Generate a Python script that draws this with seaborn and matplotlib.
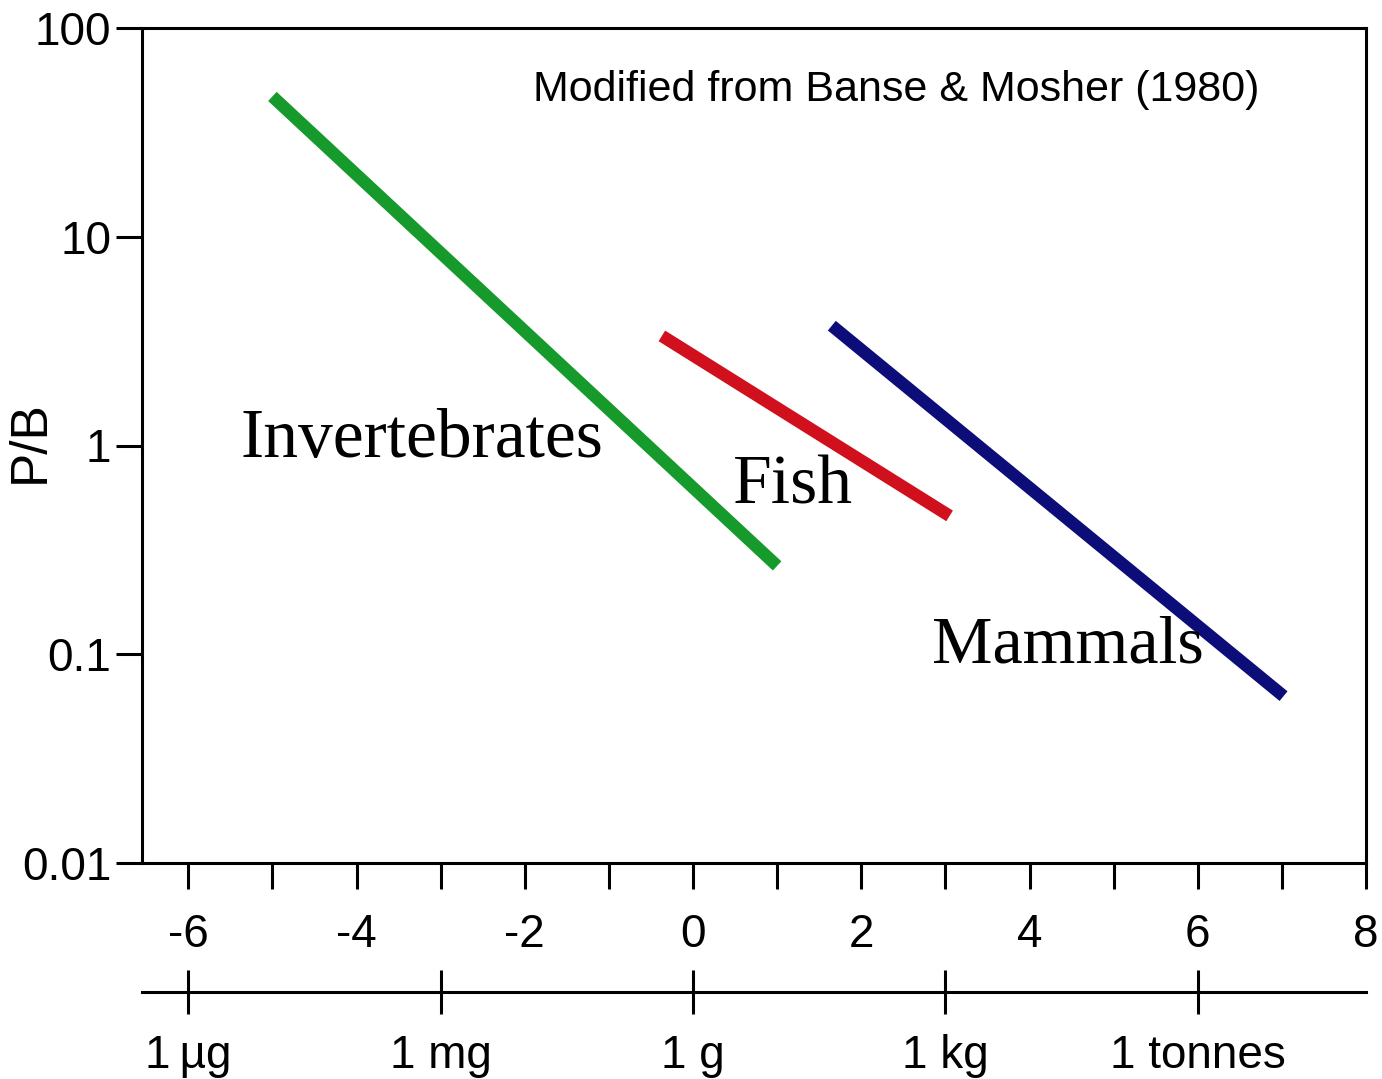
import matplotlib
matplotlib.use("Agg")
import matplotlib.pyplot as plt
import seaborn as sns
import pandas as pd

# Data (log10 body mass in g, P/B ratio) - endpoints of regression lines
groups = ["Invertebrates", "Fish", "Mammals"]
invert_x = [-5.0, 1.0]
invert_y = [47.0, 0.265]
fish_x = [-0.37, 3.05]
fish_y = [3.35, 0.46]
mammal_x = [1.65, 7.02]
mammal_y = [3.75, 0.063]
colors = ["#169a2c", "#d0101c", "#0d0d7a"]

x_ticks = list(range(-6, 9))
x_labels = [str(v) if v % 2 == 0 else "" for v in x_ticks]
y_ticks = [0.01, 0.1, 1, 10, 100]
y_labels = ["0.01", "0.1", "1", "10", "100"]
mass_ticks = [-6, -3, 0, 3, 6]
mass_labels = ["1\u2009µg", "1 mg", "1 g", "1 kg", "1 tonnes"]

df = pd.concat([
    pd.DataFrame({"x": invert_x, "y": invert_y, "group": "Invertebrates"}),
    pd.DataFrame({"x": fish_x, "y": fish_y, "group": "Fish"}),
    pd.DataFrame({"x": mammal_x, "y": mammal_y, "group": "Mammals"}),
])

sns.set_theme(style="ticks")
plt.rcParams["font.family"] = ["Liberation Sans", "DejaVu Sans"]
plt.rcParams["text.color"] = "black"
plt.rcParams["axes.labelcolor"] = "black"
plt.rcParams["xtick.color"] = "black"
plt.rcParams["ytick.color"] = "black"

fig = plt.figure(figsize=(13.82, 10.79), dpi=100)
ax = fig.add_axes([142/1382, 1-863/1079, (1366-142)/1382, (863-28)/1079])

sns.lineplot(data=df, x="x", y="y", hue="group", palette=dict(zip(groups, colors)),
             linewidth=9, legend=False, ax=ax, solid_capstyle="butt", estimator=None)

ax.set_yscale("log")
ax.set_xlim(-6.55, 8)
ax.set_ylim(0.01, 100)
ax.set_yticks(y_ticks)
ax.set_yticklabels(y_labels)
ax.minorticks_off()
ax.set_xticks(x_ticks)
ax.set_xticklabels(x_labels)
for s in ax.spines.values():
    s.set_linewidth(2.2)
    s.set_color("black")
ax.tick_params(axis="both", direction="out", length=19, width=2.2, colors="black",
               labelsize=33)
ax.tick_params(axis="x", pad=17)
ax.tick_params(axis="y", pad=3)
ax.set_xlabel("")
ax.set_ylabel("P/B", fontsize=37)
ax.yaxis.set_label_coords(-0.071, 0.505)

sec = ax.secondary_xaxis(-0.1545)
sec.set_xticks(mass_ticks)
sec.set_xticklabels(mass_labels)
sec.spines["bottom"].set_linewidth(2.2)
sec.spines["bottom"].set_color("black")
sec.tick_params(axis="x", direction="inout", length=31, width=2.2, labelsize=33, pad=15,
                colors="black")

serif = ["Liberation Serif", "DejaVu Serif"]
ax.text(-5.38, 0.88, "Invertebrates", family=serif, fontsize=50, ha="left", va="baseline")
ax.text(0.475, 0.53, "Fish", family=serif, fontsize=50, ha="left", va="baseline")
ax.text(2.84, 0.0908, "Mammals", family=serif, fontsize=49, ha="left", va="baseline")
ax.text(-1.9, 50.5, "Modified from Banse & Mosher (1980)", fontsize=31, ha="left", va="center")

fig.savefig("out.png", dpi=100, facecolor="white")
